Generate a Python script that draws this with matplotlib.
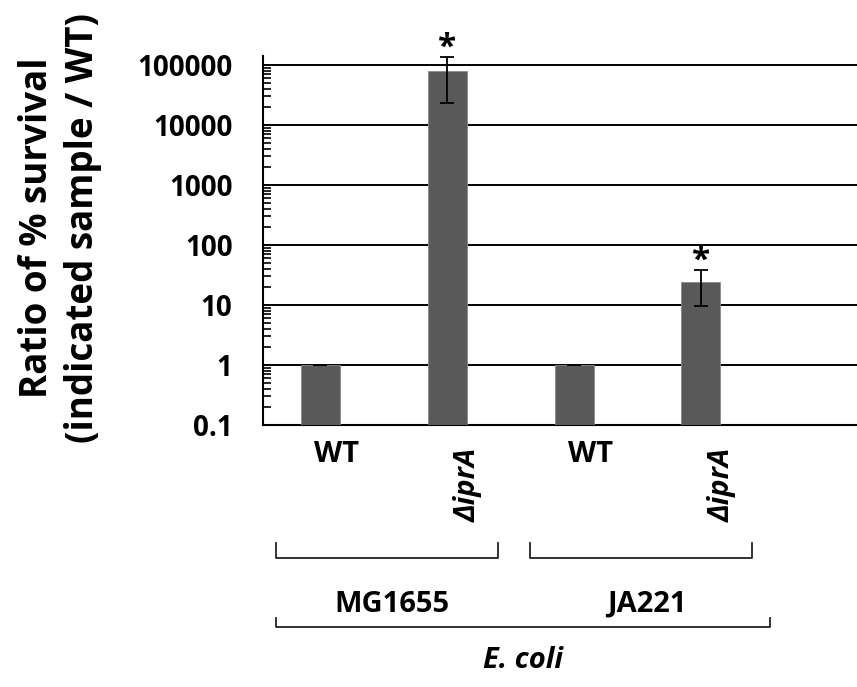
import numpy as np
import matplotlib.pyplot as plt
from matplotlib.ticker import FixedLocator, LogLocator, NullFormatter
import matplotlib.transforms as mtransforms

# Data
strains = ["MG1655", "MG1655", "JA221", "JA221"]
genotypes = ["WT", "\u0394iprA", "WT", "\u0394iprA"]
ratio = [1, 80000, 1, 24]
ratio_err = [0, 57000, 0, 14.5]
significant = [False, True, False, True]
group_names = ["MG1655", "JA221"]
species = "E. coli"
ytick_vals = [0.1, 1, 10, 100, 1000, 10000, 100000]
ytick_labels = ["0.1", "1", "10", "100", "1000", "10000", "100000"]

plt.rcParams['font.family'] = ['Open Sans', 'DejaVu Sans']

W, H = 857, 687
fig = plt.figure(figsize=(W / 100, H / 100), dpi=100)

# axes geometry in pixels (plot area is cropped on the right like the original)
left_px, bottom_px, top_px = 263, 425, 56
unit_px = 127  # pixels per category
ax = fig.add_axes([left_px / W, 1 - bottom_px / H,
                   (W - left_px + 10) / W, (bottom_px - top_px) / H])

x = np.arange(len(ratio))
x0 = -(320 - left_px) / unit_px
ax.set_xlim(x0, x0 + (W - left_px + 10) / unit_px)
ax.set_yscale('log')
ax.set_ylim(0.1, 1.41e5)

ax.bar(x, ratio, width=39 / unit_px, color='#595959', edgecolor='#8a8a8a',
       linewidth=0.6, zorder=3)
ax.errorbar(x, ratio, yerr=ratio_err, fmt='none', ecolor='black',
            elinewidth=1.3, capsize=5, capthick=1.3, zorder=4)

for xi, yi, ei, sig in zip(x, ratio, ratio_err, significant):
    if sig:
        ax.annotate("*", (xi, yi + ei), xytext=(0, -6), textcoords='offset points',
                    ha='center', va='bottom', fontsize=24, fontweight='bold')

# grid & axes
ax.yaxis.set_major_locator(FixedLocator(ytick_vals))
ax.set_yticklabels(ytick_labels, fontsize=20, fontweight='bold')
ax.yaxis.set_minor_locator(LogLocator(base=10, subs=np.arange(2, 10), numticks=20))
ax.yaxis.set_minor_formatter(NullFormatter())
ax.tick_params(axis='y', which='both', direction='in', length=6, width=1.2,
               pad=22, color='black')
ax.tick_params(axis='x', bottom=False, labelbottom=False)
ax.grid(axis='y', which='major', color='black', linewidth=1.4, zorder=0)
ax.set_axisbelow(True)
for side in ['top', 'right']:
    ax.spines[side].set_visible(False)
for side in ['left', 'bottom']:
    ax.spines[side].set_linewidth(1.5)
    ax.spines[side].set_color('black')


def fy(py):
    return 1 - py / H


fig.text(60 / W, fy(228), "Ratio of % survival\n(indicated sample / WT)",
         rotation=90, ha='center', va='center', fontsize=26.5, fontweight='bold',
         linespacing=1.25, multialignment='center')

# category labels below the axis (x in data, y in figure fraction)
trans = mtransforms.blended_transform_factory(ax.transData, fig.transFigure)

for xi, g in zip(x, genotypes):
    if g == "WT":
        ax.text(xi + 0.13, fy(440), g, transform=trans, ha='center', va='top',
                fontsize=21, fontweight='bold', clip_on=False)
    else:
        ax.text(xi + 0.17, fy(448), g, transform=trans, ha='center',
                va='top', rotation=90, fontsize=21, fontweight='bold',
                fontstyle='italic', clip_on=False)

# strain brackets
bracket_kw = dict(color='#222222', linewidth=1.3, transform=trans, clip_on=False)
for gi, name in enumerate(group_names):
    xs = x[[s == name for s in strains]]
    xl, xr = xs.min() - 0.35, xs.max() + 0.40
    ax.plot([xl, xl, xr, xr], [fy(543), fy(558), fy(558), fy(543)], **bracket_kw)
    ax.text(xs.mean() + 0.07, fy(604), name, transform=trans, ha='center',
            va='center', fontsize=21, fontweight='bold')

# species bracket
xl, xr = x.min() - 0.35, x.max() + 0.54
ax.plot([xl, xl, xr, xr], [fy(618), fy(627), fy(627), fy(618)], **bracket_kw)
ax.text((xl + xr) / 2, fy(660), species, transform=trans, ha='center',
        va='center', fontsize=21, fontweight='bold', fontstyle='italic')

fig.savefig("out.png", dpi=100)
